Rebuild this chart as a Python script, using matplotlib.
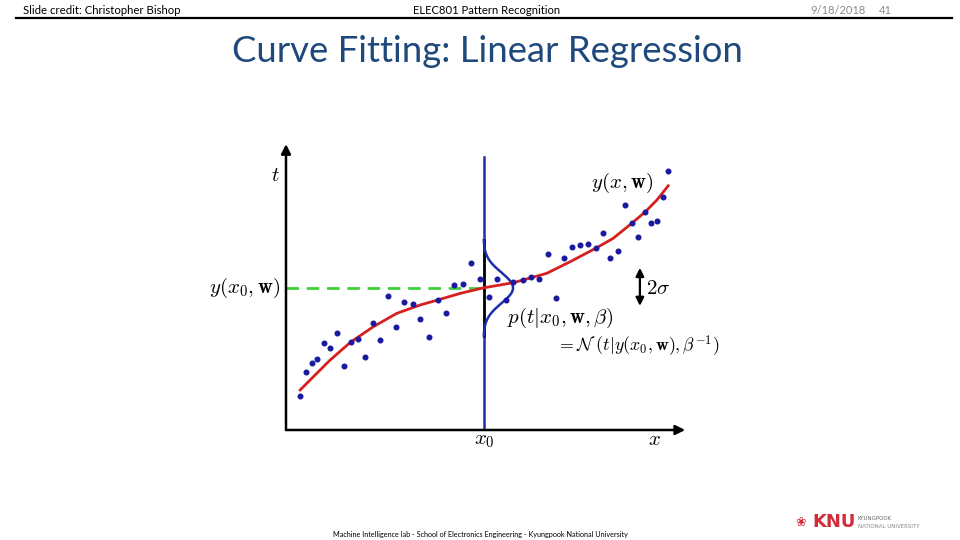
import numpy as np
from matplotlib import pyplot as plt

# observed points (x in [0, 1], t in [0, 1])
x_pts = [0.035, 0.050, 0.064, 0.077, 0.094, 0.110, 0.126, 0.143, 0.160, 0.179,
         0.196, 0.216, 0.233, 0.253, 0.272, 0.293, 0.314, 0.332, 0.353, 0.375,
         0.395, 0.416, 0.437, 0.459, 0.480, 0.502, 0.523, 0.545, 0.563, 0.586,
         0.607, 0.627, 0.649, 0.668, 0.688, 0.708, 0.728, 0.747, 0.767, 0.785,
         0.803, 0.822, 0.838, 0.856, 0.871, 0.889, 0.903, 0.918, 0.932, 0.946]
t_pts = [0.116, 0.200, 0.230, 0.246, 0.300, 0.284, 0.334, 0.220, 0.303, 0.313,
         0.251, 0.370, 0.311, 0.463, 0.354, 0.440, 0.433, 0.382, 0.322, 0.448,
         0.403, 0.501, 0.502, 0.575, 0.521, 0.459, 0.522, 0.448, 0.510, 0.517,
         0.528, 0.521, 0.608, 0.455, 0.594, 0.632, 0.637, 0.641, 0.627, 0.678,
         0.593, 0.617, 0.775, 0.715, 0.664, 0.752, 0.713, 0.721, 0.804, 0.894]

# fitted curve y(x, w)
x_fit = [0.035, 0.068, 0.109, 0.160, 0.216, 0.274, 0.332, 0.375, 0.431, 0.488,
         0.563, 0.645, 0.703, 0.767, 0.810, 0.856, 0.889, 0.918, 0.946]
y_fit = [0.138, 0.184, 0.241, 0.303, 0.356, 0.402, 0.431, 0.448, 0.471, 0.490,
         0.508, 0.540, 0.580, 0.627, 0.661, 0.713, 0.752, 0.793, 0.842]

# predictive distribution at x0
x0 = 0.489
y0 = 0.490
sigma = 0.053
peak = 0.073


def draw_slide(ax):
    ax.set_xlim(0, 960)
    ax.set_ylim(540, 0)
    ax.axis('off')

    ax.text(23, 10, 'Slide credit: Christopher Bishop', fontsize=8.2,
            family='Lato', va='center')
    ax.text(487, 10, 'ELEC801 Pattern Recognition', fontsize=8.1,
            family='Lato', va='center', ha='center')
    ax.text(866, 10, '9/18/2018', fontsize=8, color='#8c8c8c',
            family='Lato', va='center', ha='right')
    ax.text(879, 10, '41', fontsize=8, color='#8c8c8c',
            family='Lato', va='center')
    ax.plot([16, 952], [17.5, 17.5], color='black', lw=1.6)

    ax.text(487, 52, 'Curve Fitting: Linear Regression', fontsize=26.3,
            color='#1f497d', family='Lato', ha='center', va='center')

    ax.text(480, 534, 'Machine Intelligence lab - School of Electronics '
            'Engineering - Kyungpook National University', fontsize=5.25,
            family='Lato', ha='center', va='center')

    # KNU logo
    ax.text(801, 522, '\u2740', fontsize=9, color='#d42b3a',
            ha='center', va='center')
    ax.text(812, 522, 'KNU', fontsize=13, color='#d42b3a', weight='bold',
            family='DejaVu Sans', va='center')
    ax.text(858, 518, 'KYUNGPOOK', fontsize=4, color='#666666', va='center')
    ax.text(858, 526, 'NATIONAL UNIVERSITY', fontsize=4, color='#888888',
            va='center')

    # labels of the figure
    fs = 15
    ax.text(275, 175, '$t$', fontsize=fs, ha='center', va='center')
    ax.text(655, 439, '$x$', fontsize=fs, ha='center', va='center')
    ax.text(484, 440, '$x_0$', fontsize=fs, ha='center', va='center')
    ax.text(622, 183, r'$y(x,\mathbf{w})$', fontsize=fs,
            ha='center', va='center')
    ax.text(280, 288, r'$y(x_0,\mathbf{w})$', fontsize=fs,
            ha='right', va='center')
    ax.text(646, 288, r'$2\sigma$', fontsize=fs, ha='left', va='center')
    ax.text(507, 318, r'$p(t|x_0,\mathbf{w},\beta)$', fontsize=fs,
            ha='left', va='center')
    ax.text(556, 346, r'$=\mathcal{N}\ (t|y(x_0,\mathbf{w}),\beta^{-1})$',
            fontsize=12.8, ha='left', va='center')


def draw_plot(pax):
    pax.set_xlim(0, 1)
    pax.set_ylim(0, 1)
    pax.axis('off')

    # axes with arrows
    arrow = dict(arrowstyle='-|>', color='black', lw=1.8,
                 mutation_scale=14, shrinkA=0, shrinkB=0)
    pax.annotate('', xy=(0.988, 0), xytext=(0, 0), arrowprops=arrow)
    pax.annotate('', xy=(0, 0.986), xytext=(0, 0), arrowprops=arrow)

    # green dashed line at y(x0, w)
    pax.plot([0, x0], [y0, y0], color='#3fd13a', lw=2, ls=(0, (4.5, 2.8)))

    # vertical line through x0
    pax.plot([x0, x0], [0, 0.941], color='#1f2fa8', lw=1.8)
    lo, hi = y0 - 3.1 * sigma, y0 + 3.1 * sigma
    pax.plot([x0, x0], [lo, hi], color='black', lw=1.8)

    # gaussian p(t | x0, w, beta)
    tt = np.linspace(lo, hi, 200)
    gx = x0 + peak * np.exp(-0.5 * ((tt - y0) / sigma) ** 2)
    pax.plot(gx, tt, color='#1f2fa8', lw=1.8)

    # fitted curve and data points
    pax.plot(x_fit, y_fit, color='#d62020', lw=2)
    pax.scatter(x_pts, t_pts, s=11, color='#1a1aa0', zorder=3)

    # 2 sigma arrow
    pax.annotate('', xy=(0.876, 0.559), xytext=(0.876, 0.428),
                 arrowprops=dict(arrowstyle='<|-|>', color='black', lw=1.6,
                                 mutation_scale=12, shrinkA=0, shrinkB=0))


def main():
    plt.rcParams['mathtext.fontset'] = 'cm'
    fig = plt.figure(figsize=(9.6, 5.4), dpi=100)
    fig.patch.set_facecolor('white')

    ax = fig.add_axes([0, 0, 1, 1])
    draw_slide(ax)

    pax = fig.add_axes([286 / 960, 110 / 540, 404 / 960, 290 / 540])
    draw_plot(pax)

    fig.savefig('out.png', dpi=100)


if __name__ == "__main__":
    main()
